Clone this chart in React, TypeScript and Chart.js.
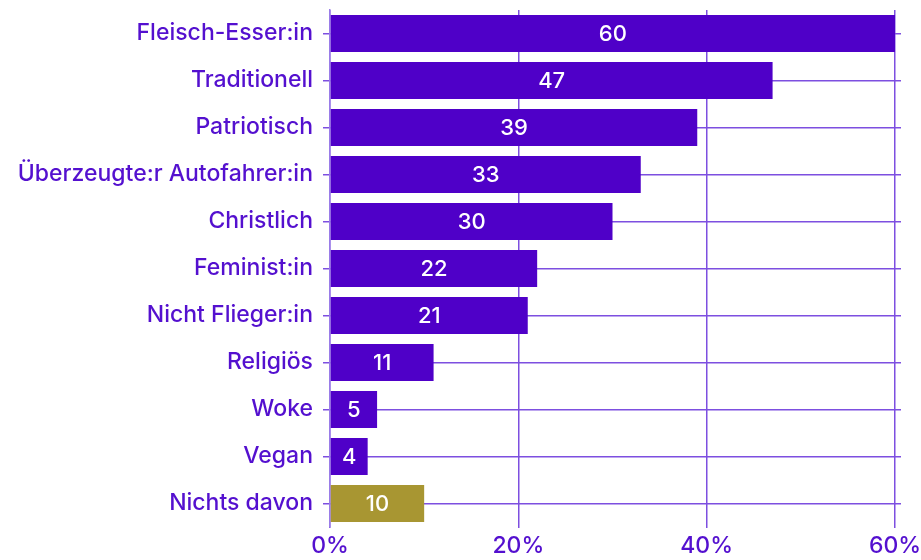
import React, { useEffect, useRef } from "react";
import { Chart, registerables } from "chart.js";

Chart.register(...registerables);

const categories = [
  "Fleisch-Esser:in",
  "Traditionell",
  "Patriotisch",
  "Überzeugte:r Autofahrer:in",
  "Christlich",
  "Feminist:in",
  "Nicht Flieger:in",
  "Religiös",
  "Woke",
  "Vegan",
  "Nichts davon",
];
const values = [60, 47, 39, 33, 30, 22, 21, 11, 5, 4, 10];
const barColors = [
  "#4f00c8", "#4f00c8", "#4f00c8", "#4f00c8", "#4f00c8", "#4f00c8",
  "#4f00c8", "#4f00c8", "#4f00c8", "#4f00c8", "#a89632",
];
const xTicks = [0, 20, 40, 60];

const FONT = "Inter, 'Noto Sans', sans-serif";
const TEXT = "#5410cf";
const GRID = "#7d4fe0";

const valueLabels = {
  id: "valueLabels",
  afterDatasetsDraw(chart: any) {
    const ctx = chart.ctx;
    const meta = chart.getDatasetMeta(0);
    ctx.save();
    ctx.fillStyle = "#ffffff";
    ctx.font = `500 22px ${FONT}`;
    ctx.textAlign = "center";
    ctx.textBaseline = "middle";
    meta.data.forEach((bar: any, i: number) => {
      const x = (bar.x + bar.base) / 2;
      ctx.fillText(String(values[i]), x, bar.y + 1);
    });
    ctx.restore();
  },
};

export default function App() {
  const ref = useRef<HTMLCanvasElement>(null);
  useEffect(() => {
    document.body.style.margin = "0";
    const chart = new Chart(ref.current!, {
      type: "bar",
      data: {
        labels: categories,
        datasets: [
          {
            data: values,
            backgroundColor: barColors,
            borderWidth: 0,
            barPercentage: 0.79,
            categoryPercentage: 1,
          },
        ],
      },
      options: {
        indexAxis: "y",
        animation: false,
        responsive: false,
        maintainAspectRatio: false,
        layout: { padding: { top: 10, right: 20, left: 0, bottom: 0 } },
        plugins: { legend: { display: false }, tooltip: { enabled: false } },
        scales: {
          x: {
            min: 0,
            max: 60,
            afterBuildTicks: (axis: any) => {
              axis.ticks = xTicks.map((v) => ({ value: v }));
            },
            ticks: {
              color: TEXT,
              font: { family: FONT, size: 23, weight: "500" },
              callback: (v: any) => v + "%",
              padding: 4,
              maxRotation: 0,
            },
            grid: { color: GRID, lineWidth: 1.5, tickLength: 1, drawTicks: true },
            border: { display: false },
            afterFit: (axis: any) => {
              axis.height = 33;
              axis.paddingLeft = 0;
              axis.paddingRight = 0;
            },
          },
          y: {
            position: "left",
            ticks: {
              color: TEXT,
              font: { family: FONT, size: 23, weight: "500" },
              padding: 10,
            },
            grid: { color: GRID, lineWidth: 1.5, offset: false, tickLength: 7 },
            border: { display: true, color: "#9a7ce8", width: 1.5 },
            afterFit: (axis: any) => {
              axis.width = 330;
              axis.paddingTop = 0;
              axis.paddingBottom = 0;
            },
          },
          y2: {
            type: "category",
            position: "right",
            labels: categories,
            ticks: { display: false },
            grid: { color: GRID, lineWidth: 1.5, offset: false, tickLength: 6, drawOnChartArea: false },
            border: { display: false },
            afterFit: (axis: any) => {
              axis.width = 6;
              axis.paddingTop = 0;
              axis.paddingBottom = 0;
            },
          },
        },
      },
      plugins: [valueLabels],
    } as any);
    return () => chart.destroy();
  }, []);
  return (
    <div style={{ width: 921, height: 560 }}>
      <canvas ref={ref} width={921} height={560} style={{ display: "block" }} />
    </div>
  );
}
